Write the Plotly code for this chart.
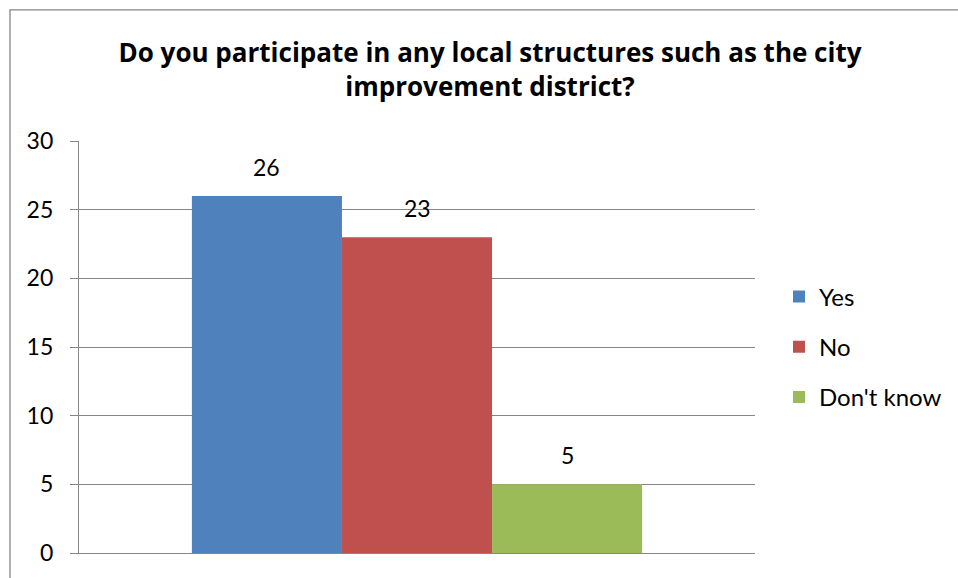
import plotly.graph_objects as go

# Survey responses
category = ["Responses"]
series_names = ["Yes", "No", "Don't know"]
series_values = [26, 23, 5]
series_colors = ["#4F81BD", "#C0504D", "#9BBB59"]
y_ticks = [0, 5, 10, 15, 20, 25, 30]

title_text = ("Do you participate in any local structures such as the city"
              "<br>improvement district?")

FONT = "Lato, Carlito, Calibri, sans-serif"
TITLE_FONT = "Open Sans, sans-serif"
GRID = "#868686"
BARGAP = 0.334

fig = go.Figure()
for i, (name, val, col) in enumerate(zip(series_names, series_values, series_colors)):
    fig.add_trace(go.Bar(
        x=category, y=[val], name=name, legendgroup=name,
        marker=dict(color=col, line=dict(width=0)),
    ))

# value labels above each bar, offset to that bar's slot in the group
bar_w = (1 - BARGAP) / len(series_values)
annotations = []
for i, val in enumerate(series_values):
    annotations.append(dict(
        x=(i - (len(series_values) - 1) / 2) * bar_w, y=val,
        xref="x", yref="y", text=str(val), showarrow=False,
        yanchor="bottom", yshift=13,
        font=dict(family=FONT, size=23, color="#000000"),
    ))

fig.update_layout(
    width=958, height=578,
    margin=dict(l=79, r=203, t=141, b=22),
    paper_bgcolor="white", plot_bgcolor="white",
    barmode="group", bargap=BARGAP, bargroupgap=0,
    showlegend=True,
    title=dict(
        text=title_text, x=490 / 958, xanchor="center",
        y=1 - 62 / 578, yanchor="middle", yref="container",
        font=dict(family=TITLE_FONT, size=26, color="#000000", weight="bold"),
    ),
    legend=dict(
        xref="container", x=779 / 958, xanchor="left",
        yref="container", y=1 - 347 / 578, yanchor="middle",
        font=dict(family=FONT, size=24, color="#000000"),
        tracegroupgap=16, traceorder="grouped",
        bgcolor="rgba(0,0,0,0)",
    ),
    xaxis=dict(
        showticklabels=False, showgrid=False, zeroline=False,
        showline=True, linecolor=GRID, linewidth=1.3,
        ticks="",
    ),
    yaxis=dict(
        range=[0, 30], tickvals=y_ticks, showgrid=True,
        gridcolor=GRID, gridwidth=1.3, zeroline=False,
        showline=True, linecolor=GRID, linewidth=1.3,
        ticks="outside", ticklen=8, tickcolor=GRID, tickwidth=1.3,
        ticklabelstandoff=12,
        tickfont=dict(family=FONT, size=23, color="#000000"),
    ),
    annotations=annotations,
    shapes=[dict(
        type="rect", xref="paper", yref="paper",
        x0=(10 - 79) / 676, x1=1.6, y0=-0.3, y1=(556 - 9) / 415,
        line=dict(color=GRID, width=1.3), fillcolor="rgba(0,0,0,0)",
        layer="below",
    )],
)

fig.write_html("out.html")
